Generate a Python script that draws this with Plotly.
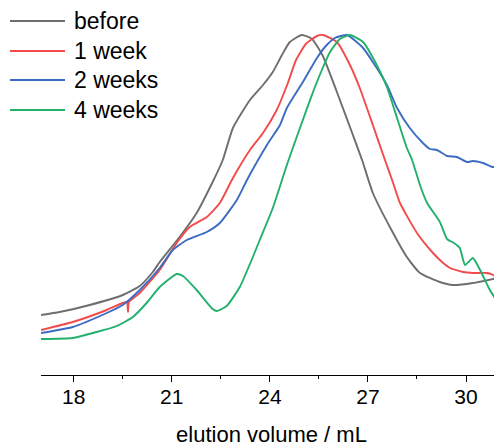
import plotly.graph_objects as go

# elution volume (mL) and detector signal (arb. units)
before_x = [17.0, 17.57, 18.49, 19.50, 20.02, 20.42, 20.63, 21.24, 21.76, 22.25, 22.56, 22.87,
            23.39, 23.79, 24.09, 24.37, 24.61, 24.98, 25.29, 25.62, 26.05, 26.54, 26.82, 27.15,
            27.67, 28.19, 28.59, 29.20, 29.60, 30.21, 30.95]
before_y = [60, 63, 70, 80, 89, 103, 113, 138, 162, 193, 215, 247,
            275, 290, 303, 320, 333, 340, 336, 319, 283, 240, 215, 182,
            148, 118, 102, 93, 90, 92, 97]

week1_x = [17.0, 17.97, 19.01, 19.50, 19.63, 19.66, 19.69, 20.02, 20.63, 21.15, 21.55, 22.07,
           22.47, 22.87, 23.39, 23.79, 24.21, 24.55, 24.80, 25.10, 25.44, 25.62, 26.05, 26.45,
           26.75, 27.15, 27.52, 27.76, 27.98, 28.50, 28.99, 29.30, 29.51, 29.91, 30.21, 30.64,
           30.83, 30.98]
week1_y = [45, 53, 65, 72, 73, 63, 73, 82, 105, 132, 148, 158,
           172, 197, 225, 242, 265, 292, 315, 331, 339, 340, 333, 310,
           287, 250, 215, 193, 172, 142, 122, 112, 107, 103, 102, 102,
           100, 96]

week2_x = [17.0, 17.97, 19.01, 19.50, 20.02, 20.63, 21.03, 21.46, 22.07, 22.47, 22.99, 23.30,
           23.91, 24.31, 24.52, 25.01, 25.44, 25.74, 25.99, 26.36, 26.85, 27.15, 27.58,
           27.89, 28.28, 28.68, 28.90, 29.11, 29.42, 29.72, 30.03, 30.21, 30.52, 30.83, 30.98]
week2_y = [42, 48, 62, 70, 85, 107, 125, 135, 143, 152, 175, 195,
           230, 250, 267, 293, 317, 330, 337, 340, 327, 313, 290,
           267, 247, 232, 226, 225, 219, 218, 213, 214, 212, 208, 211]

week4_x = [17.0, 17.97, 18.70, 19.32, 19.81, 20.23, 20.63, 21.15, 21.34, 21.76, 22.25, 22.38,
           22.68, 23.08, 23.48, 23.69, 24.09, 24.52, 24.92, 25.32, 25.59, 25.84, 26.14, 26.45,
           26.85, 27.27, 27.58, 27.89, 28.19, 28.35, 28.59, 28.81, 29.20, 29.42, 29.63, 29.81,
           29.97, 30.21, 30.43, 30.73, 30.98]
week4_y = [36, 37, 43, 49, 58, 72, 88, 101, 99, 85, 66, 64,
           69, 88, 118, 135, 167, 210, 247, 283, 305, 323, 336, 340,
           333, 310, 288, 257, 227, 215, 190, 172, 153, 136, 132, 127,
           110, 117, 105, 85, 72]

series = [
    ("before", before_x, before_y, "#6e6e6e"),
    ("1 week", week1_x, week1_y, "#f24b4b"),
    ("2 weeks", week2_x, week2_y, "#3b6cc1"),
    ("4 weeks", week4_x, week4_y, "#22b06d"),
]

# page body has an 8px margin, so the figure is 8px smaller than the window
W, H = 494, 439
plot_left, plot_bottom = 33, 367
legend_rows = [13, 43, 72, 102]  # px from top of figure

fig = go.Figure()
for i, (name, xs, ys, col) in enumerate(series):
    fig.add_trace(go.Scatter(x=xs, y=ys, mode="lines", name=name, showlegend=False,
                             line=dict(color=col, width=1.9, shape="spline", smoothing=0.5)))
    # hand-drawn legend (plotly's own legend pushes the margins here)
    ly = 1 - legend_rows[i] / plot_bottom
    fig.add_shape(type="line", xref="paper", yref="paper", x0=2 / W, x1=57 / W, y0=ly, y1=ly,
                  line=dict(color=col, width=2))
    fig.add_annotation(xref="paper", yref="paper", x=64 / W, y=ly, text=name, showarrow=False,
                       xanchor="left", yanchor="middle", font=dict(size=23))

fig.update_layout(
    width=W, height=H,
    margin=dict(l=0, r=0, t=0, b=H - plot_bottom),
    paper_bgcolor="white", plot_bgcolor="white",
    font=dict(family="Arial, Liberation Sans, sans-serif", color="black", size=21),
    showlegend=False,
)
fig.update_xaxes(
    domain=[plot_left / W, 1], automargin=False,
    range=[17.0, 31.1], tickvals=[18, 21, 24, 27, 30],
    ticks="outside", ticklen=6, tickwidth=1.2, tickcolor="black",
    minor=dict(tickvals=[19.5, 22.5, 25.5, 28.5], ticks="outside", ticklen=3,
               tickwidth=1.2, tickcolor="black"),
    showline=True, linecolor="black", linewidth=1.3, showgrid=False, zeroline=False,
    tickfont=dict(size=21), ticklabelstandoff=-3,
    title=dict(text="elution volume / mL", font=dict(size=22), standoff=20),
)
fig.update_yaxes(domain=[0, 345 / plot_bottom], automargin=False, visible=False, range=[0, 345])

fig.write_html("out.html")
